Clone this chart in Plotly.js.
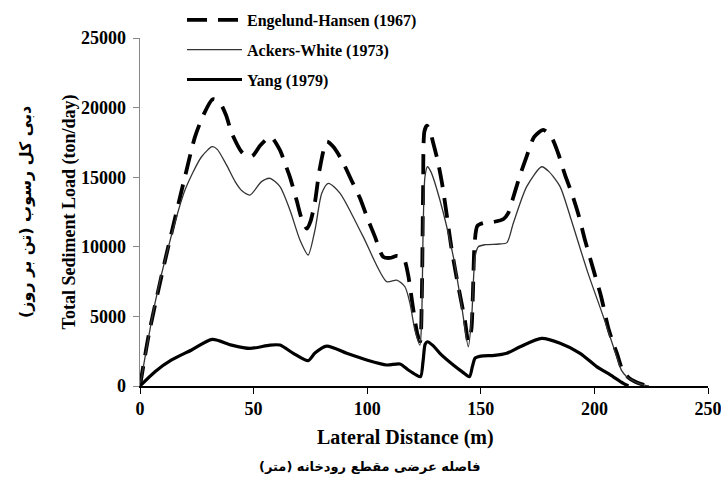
<!DOCTYPE html>
<html>
<head>
<meta charset="utf-8">
<script src="https://cdn.plot.ly/plotly-3.0.1.min.js"></script>
<style>html,body{margin:0;padding:0;background:#fff;}#chart{width:721px;height:481px;}</style>
</head>
<body>
<div id="chart"></div>
<script>
// Engelund-Hansen (1967)
const ehX = [0, 4, 11, 19.8, 24.2, 28, 32, 35, 38, 40.3, 44.8, 48, 50, 53, 57.5, 61.6, 64, 66, 69, 71, 73.5, 75, 77, 79, 82.2, 85, 88.8, 93, 96.8, 100, 103.4, 107, 110, 113, 116, 118, 120, 122, 123.3, 124, 124.6, 125.2, 126.3, 127.5, 129, 131, 133, 135, 137, 139, 141, 143, 144.5, 145.8, 146.5, 147.3, 148.5, 151, 156, 160, 162, 164, 167, 170, 173.5, 177.5, 181, 184, 187, 190, 193, 196, 200, 203, 206, 208, 210, 212, 215, 218, 221, 224];
const ehY = [0, 3800, 9000, 15040, 17900, 19500, 20600, 20400, 19400, 18200, 16800, 16450, 16600, 17300, 17900, 16950, 15900, 15000, 13300, 12100, 11300, 11800, 13200, 15500, 17550, 17200, 16240, 14800, 13500, 12100, 10730, 9290, 9200, 9350, 9200, 8000, 5800, 3800, 3200, 6000, 14000, 18300, 18700, 18400, 17500, 16200, 14500, 12300, 10000, 8100, 6400, 4700, 3200, 4000, 6500, 10300, 11500, 11700, 11800, 12000, 12400, 13400, 15000, 16400, 17900, 18400, 17900, 16740, 15200, 13860, 12300, 10400, 8110, 6400, 4240, 3200, 2300, 1300, 600, 300, 120, 0];

// Ackers-White (1973)
const awX = [0, 6.6, 12.5, 19.8, 27.1, 31.8, 34, 38, 42, 45, 48.4, 53.5, 57.2, 61.6, 66, 70.4, 74, 77, 80, 82.9, 88, 98, 108.6, 113, 116.6, 118.8, 121, 123.2, 124, 124.6, 125.4, 126.5, 128, 132, 137.9, 141.6, 144.5, 146, 147.5, 148.9, 152, 158, 161.5, 164.3, 170.2, 176.8, 180, 184.9, 189.3, 197, 204, 209.8, 212, 214.2, 218, 221, 224];
const awY = [0, 5960, 10000, 14080, 16470, 17190, 17000, 15900, 14650, 14000, 13720, 14680, 14920, 14320, 12640, 10490, 9410, 11200, 13840, 14560, 13860, 10800, 7490, 7610, 7130, 5960, 4020, 2940, 5000, 11000, 15000, 15750, 15400, 13360, 9290, 5700, 2820, 5000, 9290, 10000, 10150, 10200, 10300, 11690, 14320, 15750, 15400, 14320, 12200, 8200, 4950, 2110, 1100, 670, 300, 100, 0];

// Yang (1979)
const yaX = [0, 6.6, 13.9, 22.7, 31.8, 40.3, 48.4, 57.2, 61.6, 67.5, 74, 77, 82.2, 91, 99.8, 108.6, 114.4, 118.1, 121.5, 123.5, 124.6, 125.5, 126.5, 129, 132, 137.9, 142, 145, 146.3, 147.5, 150, 156, 161.4, 167.3, 176.8, 184.9, 193.7, 201, 207, 212.7, 215];
const yaY = [0, 1030, 1870, 2590, 3350, 2940, 2700, 2940, 2940, 2350, 1820, 2370, 2870, 2350, 1870, 1510, 1580, 1150, 800, 670, 1800, 3000, 3180, 2900, 2350, 1510, 1000, 670, 1400, 2000, 2150, 2200, 2350, 2820, 3420, 3070, 2350, 1390, 800, 190, 0];

const names = ['Engelund-Hansen (1967)', 'Ackers-White (1973)', 'Yang (1979)'];
const xTicks = [0, 50, 100, 150, 200, 250];
const xTickLabels = ['0', '50', '100', '150', '200', '250'];
const yTicks = [0, 5000, 10000, 15000, 20000, 25000];
const yTickLabels = ['0', '5000', '10000', '15000', '20000', '25000'];

const serif = '"Liberation Serif", "Times New Roman", serif';
const bold = s => '<b>' + s + '</b>';

const traces = [
  {x: ehX, y: ehY, name: bold(names[0]), mode: 'lines', legendgroup: 'a',
   line: {color: '#000', width: 3.8, dash: '20px,11px', shape: 'spline', smoothing: 0.7}},
  {x: awX, y: awY, name: bold(names[1]), mode: 'lines', legendgroup: 'b',
   line: {color: '#333', width: 1.3, shape: 'spline', smoothing: 0.7}},
  {x: yaX, y: yaY, name: bold(names[2]), mode: 'lines', legendgroup: 'c',
   line: {color: '#000', width: 3.2, shape: 'spline', smoothing: 0.7}}
];

const layout = {
  width: 721, height: 481,
  margin: {l: 140, r: 13, t: 38, b: 95, autoexpand: false},
  paper_bgcolor: '#fff', plot_bgcolor: '#fff',
  showlegend: true,
  legend: {x: 42/568, y: (386 - 3)/348, xanchor: 'left', yanchor: 'top',
           font: {family: serif, size: 16, color: '#000'},
           tracegroupgap: 6, itemwidth: 55, bgcolor: 'rgba(0,0,0,0)'},
  xaxis: {range: [0, 250], tickvals: xTicks, ticktext: xTickLabels.map(bold), ticks: 'outside', ticklen: 6, tickcolor: '#000',
          ticklabeloverflow: 'allow',
          showline: true, linecolor: '#000', linewidth: 1.5, showgrid: false, zeroline: false,
          tickfont: {family: serif, size: 18, color: '#000'}},
  yaxis: {range: [0, 25000], tickvals: yTicks, ticktext: yTickLabels.map(bold), ticks: 'outside', ticklen: 6, tickcolor: '#888',
          ticklabelstandoff: 3, ticklabeloverflow: 'allow',
          showline: true, linecolor: '#888', linewidth: 1.5, showgrid: false, zeroline: false,
          tickfont: {family: serif, size: 18, color: '#000'},
          title: {text: bold('Total Sediment Load (ton/day)'), font: {family: serif, size: 18, color: '#000'}, standoff: 0}},
  annotations: [
    {xref: 'paper', yref: 'paper', x: (405 - 140)/568, y: 0, yshift: -51, xanchor: 'center', yanchor: 'middle', showarrow: false,
     text: bold('Lateral Distance (m)'), font: {family: serif, size: 20, color: '#000'}},
    {xref: 'paper', yref: 'paper', x: (369 - 140)/568, y: 0, yshift: -80, xanchor: 'center', yanchor: 'middle', showarrow: false,
     text: bold('فاصله عرضی مقطع رودخانه (متر)'), font: {family: 'DejaVu Sans', size: 13, color: '#000'}},
    {xref: 'paper', yref: 'paper', x: 0, xshift: -115, y: (386 - 212)/348, xanchor: 'center', yanchor: 'middle', showarrow: false, textangle: -90,
     text: bold('دبی کل رسوب (تن بر روز)'), font: {family: 'DejaVu Sans', size: 16, color: '#000'}}
  ]
};

Plotly.newPlot('chart', traces, layout, {displayModeBar: false, staticPlot: true});
</script>
</body>
</html>
